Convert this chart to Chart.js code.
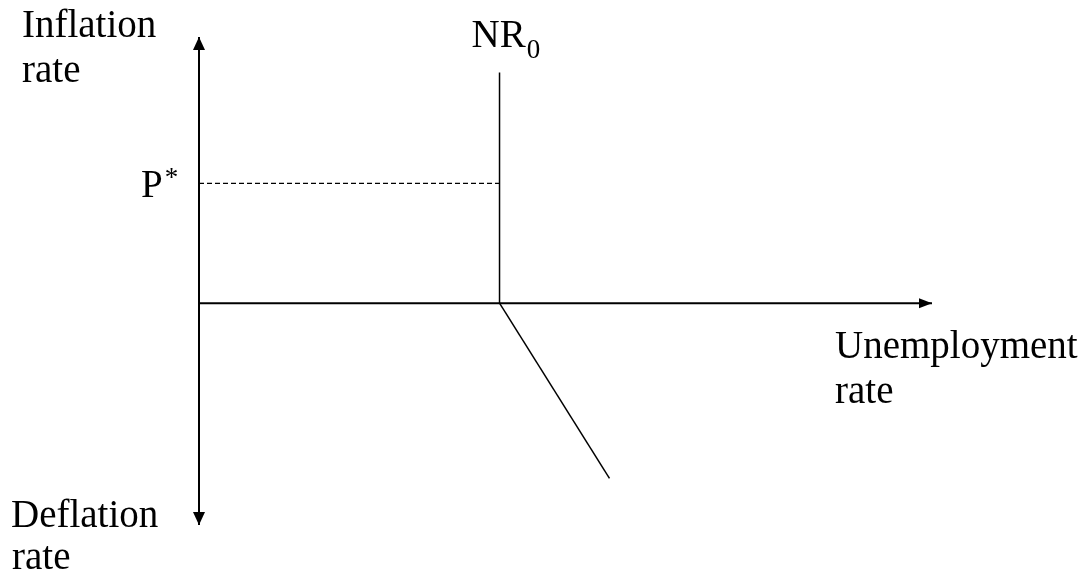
<!DOCTYPE html>
<html>
<head>
<meta charset="utf-8">
<script src="https://cdn.jsdelivr.net/npm/chart.js@4.4.0/dist/chart.umd.min.js"></script>
<style>
  html, body { margin: 0; padding: 0; background: #fff; }
  #wrap { width: 1088px; height: 577px; }
</style>
</head>
<body>
<div id="wrap"><canvas id="nrChart" width="1088" height="577"></canvas></div>
<script>
// Axis ranges (unemployment on x, inflation on y)
const xRange = [0, 10];
const yRange = [-5, 6];

// Axes of the diagram
const xAxisLine = [{x: 0, y: 0}, {x: 10, y: 0}];
const yAxisLine = [{x: 0, y: -5}, {x: 0, y: 6}];

// Natural rate line NR0: vertical part, then bending down
const nrVertical = [{x: 4.1, y: 5.2}, {x: 4.1, y: 0}];
const nrLower = [{x: 4.1, y: 0}, {x: 5.6, y: -3.95}];

// P* level
const pStar = 2.7;
const pStarLine = [{x: 0, y: pStar}, {x: 4.1, y: pStar}];

const FONT = '"Liberation Serif", "Times New Roman", serif';

function lineSet(data, width, dash) {
  return {
    data: data,
    showLine: true,
    borderColor: '#000',
    borderWidth: width,
    borderDash: dash || [],
    pointRadius: 0,
    pointHoverRadius: 0,
    tension: 0,
    clip: false
  };
}

// draws arrow heads and the text labels
const diagramPlugin = {
  id: 'diagram',
  afterDatasetsDraw(chart) {
    const ctx = chart.ctx;
    const xs = chart.scales.x, ys = chart.scales.y;
    const x0 = xs.getPixelForValue(0), y0 = ys.getPixelForValue(0);
    const top = ys.getPixelForValue(yRange[1]), bottom = ys.getPixelForValue(yRange[0]);
    const right = xs.getPixelForValue(xRange[1]);

    ctx.save();
    ctx.fillStyle = '#000';
    // up arrow
    ctx.beginPath();
    ctx.moveTo(x0, top); ctx.lineTo(x0 - 6, top + 13); ctx.lineTo(x0 + 6, top + 13);
    ctx.closePath(); ctx.fill();
    // down arrow
    ctx.beginPath();
    ctx.moveTo(x0, bottom); ctx.lineTo(x0 - 6, bottom - 13); ctx.lineTo(x0 + 6, bottom - 13);
    ctx.closePath(); ctx.fill();
    // right arrow
    ctx.beginPath();
    ctx.moveTo(right, y0); ctx.lineTo(right - 13, y0 - 5); ctx.lineTo(right - 13, y0 + 5);
    ctx.closePath(); ctx.fill();

    // labels
    ctx.textAlign = 'left';
    ctx.textBaseline = 'alphabetic';
    ctx.font = '39px ' + FONT;
    ctx.fillText('Inflation', 22, 37);
    ctx.fillText('rate', 22, 82);
    ctx.fillText('Deflation', 11, 527);
    ctx.fillText('rate', 12, 569);
    ctx.fillText('Unemployment', 835, 358);
    ctx.fillText('rate', 835, 403);

    const nrX = xs.getPixelForValue(nrVertical[0].x);
    ctx.fillText('NR', nrX - 28, 47);
    const nrW = ctx.measureText('NR').width;
    ctx.fillText('P', 141, 197);
    const pW = ctx.measureText('P').width;
    ctx.font = '27px ' + FONT;
    ctx.fillText('0', nrX - 27 + nrW, 58);
    ctx.fillText('*', 143 + pW, 186);
    ctx.restore();
  }
};

new Chart(document.getElementById('nrChart'), {
  type: 'scatter',
  data: {
    datasets: [
      lineSet(xAxisLine, 2),
      lineSet(yAxisLine, 2),
      lineSet(nrVertical, 1.5),
      lineSet(nrLower, 1.5),
      lineSet(pStarLine, 1.2, [5, 3])
    ]
  },
  options: {
    responsive: false,
    animation: false,
    layout: { padding: { left: 199, right: 156, top: 37, bottom: 52 } },
    plugins: {
      legend: { display: false },
      tooltip: { enabled: false }
    },
    scales: {
      x: { type: 'linear', min: xRange[0], max: xRange[1], display: false },
      y: { type: 'linear', min: yRange[0], max: yRange[1], display: false }
    }
  },
  plugins: [diagramPlugin]
});
</script>
</body>
</html>
